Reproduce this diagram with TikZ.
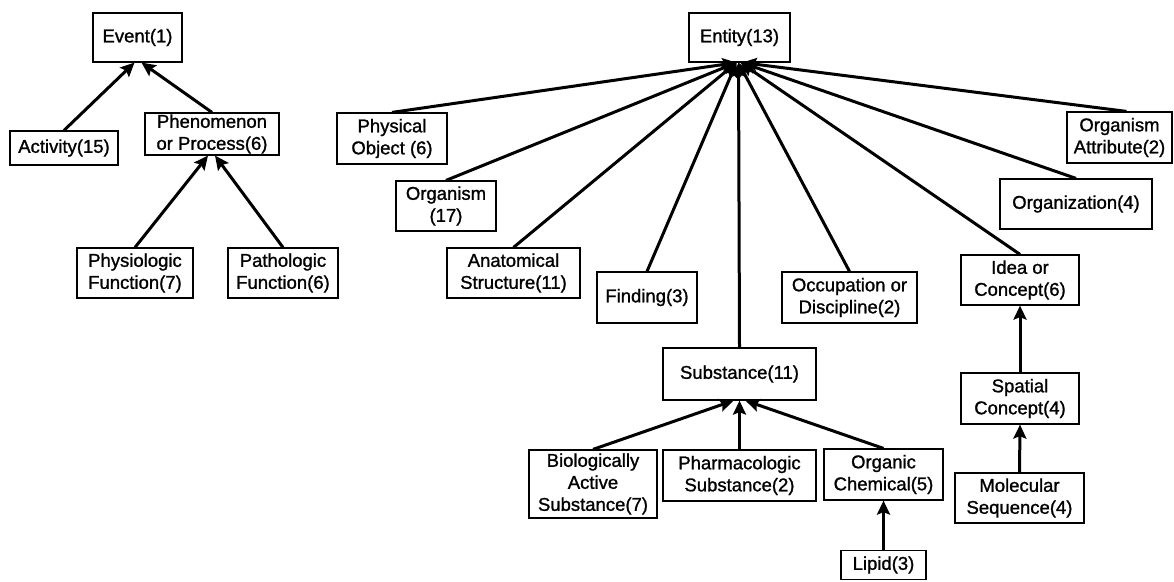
\documentclass[tikz,border=0pt]{standalone}
\usepackage{fontspec}
\setmainfont[FakeBold=1.2]{Liberation Sans}
\usetikzlibrary{arrows.meta}
\begin{document}
\begin{tikzpicture}[x=1pt,y=-1pt,
  box/.style={draw, line width=1.2pt, align=center, inner sep=0pt,
    font=\fontsize{18.5}{22}\selectfont},
  edge/.style={line width=3pt, -{Stealth[length=14pt,width=13pt,inset=2.5pt]}}]
\useasboundingbox (0,0) rectangle (1174,581);

% Event hierarchy
\node[box, minimum width=89, minimum height=49] (ev) at (137.5,37.5) {Event(1)};
\node[box, minimum width=108, minimum height=34] (act) at (64,148) {Activity(15)};
\node[box, minimum width=134, minimum height=42] (phen) at (212,134) {Phenomenon\\or Process(6)};
\node[box, minimum width=116, minimum height=50] (phys) at (135,273) {Physiologic\\Function(7)};
\node[box, minimum width=110, minimum height=50] (path) at (283,273) {Pathologic\\Function(6)};

\draw[edge] (act.north) -- ([xshift=-3]ev.south);
\draw[edge] (phen.north) -- ([xshift=4]ev.south);
\draw[edge] (phys.north) -- ([xshift=-4]phen.south);
\draw[edge] (path.north) -- ([xshift=3]phen.south);

% Entity hierarchy
\node[box, minimum width=101, minimum height=49] (ent) at (739.5,37.5) {Entity(13)};
\node[box, minimum width=110, minimum height=51] (pobj) at (392,138.5) {Physical\\Object (6)};
\node[box, minimum width=100, minimum height=50] (org) at (446,206) {Organism\\(17)};
\node[box, minimum width=133, minimum height=50] (anat) at (513.5,273) {Anatomical\\Structure(11)};
\node[box, minimum width=100, minimum height=51] (find) at (647,297.5) {Finding(3)};
\node[box, minimum width=135, minimum height=51] (occ) at (849.5,297.5) {Occupation or\\Discipline(2)};
\node[box, minimum width=105, minimum height=51] (oattr) at (1119.5,137.5) {Organism\\Attribute(2)};
\node[box, minimum width=152, minimum height=50] (orgz) at (1076,204) {Organization(4)};
\node[box, minimum width=118, minimum height=50] (idea) at (1020,280) {Idea or\\Concept(6)};
\node[box, minimum width=118, minimum height=51] (spat) at (1020,398.5) {Spatial\\Concept(4)};
\node[box, minimum width=129, minimum height=50] (mol) at (1019.5,498) {Molecular\\Sequence(4)};
\node[box, minimum width=153, minimum height=52] (subs) at (739.5,374) {Substance(11)};
\node[box, minimum width=128, minimum height=68] (bio) at (593,484) {Biologically\\Active\\Substance(7)};
\node[box, minimum width=153, minimum height=51] (pharm) at (739.5,475.5) {Pharmacologic\\Substance(2)};
\node[box, minimum width=119, minimum height=51] (ochem) at (883.5,474.5) {Organic\\Chemical(5)};
\node[box, minimum width=85, minimum height=29] (lipid) at (883.5,565) {Lipid(3)};

\draw[edge] (pobj.north) -- ([xshift=-3]ent.south);
\draw[edge] (org.north) -- ([xshift=-3]ent.south);
\draw[edge] (anat.north) -- ([xshift=-3]ent.south);
\draw[edge] (find.north) -- ([xshift=-3]ent.south);
\draw[edge] (subs.north) -- ([xshift=-1]ent.south);
\draw[edge] (occ.north) -- ([xshift=-1]ent.south);
\draw[edge] (idea.north) -- ([xshift=1]ent.south);
\draw[edge] (orgz.north) -- ([xshift=2]ent.south);
\draw[edge] ([xshift=7]oattr.north) -- ([xshift=3]ent.south);

\draw[edge] (spat.north) -- (idea.south);
\draw[edge] (mol.north) -- (spat.south);

\draw[edge] (bio.north) -- ([xshift=-6]subs.south);
\draw[edge] (pharm.north) -- (subs.south);
\draw[edge] (ochem.north) -- ([xshift=6]subs.south);
\draw[edge] (lipid.north) -- (ochem.south);
\end{tikzpicture}
\end{document}
